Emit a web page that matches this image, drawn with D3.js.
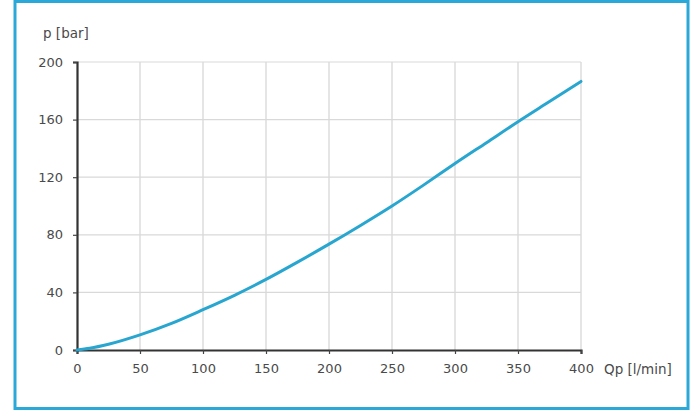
<!DOCTYPE html>
<html><head><meta charset="utf-8">
<script src="https://cdn.jsdelivr.net/npm/d3@7"></script>
<style>
html,body{margin:0;padding:0;background:#fff;}
svg{display:block;}
text{font-family:"DejaVu Sans",Verdana,sans-serif;}
</style></head>
<body>
<svg id="chart" width="694" height="411"></svg>
<script>
const flowQ = [0, 10, 25, 50, 75, 100, 125, 150, 175, 200, 225, 250, 275, 300, 325, 350, 375, 400];
const pressureP = [0, 1.2, 4, 10.5, 18.5, 28, 38, 49, 61, 73.5, 86.5, 100, 114.5, 129.5, 144, 158.5, 172.5, 186.5];
const xTicks = [0, 50, 100, 150, 200, 250, 300, 350, 400];
const yTicks = [0, 40, 80, 120, 160, 200];
const xLabel = "Qp [l/min]";
const yLabel = "p [bar]";

const svg = d3.select("#chart");
const W = 694, H = 411;
const m = {left: 77, right: 113, top: 62, bottom: 61};
const FONT = "'DejaVu Sans',Verdana,sans-serif";
const TXT = "#4a4a4a";

// frame
svg.append("rect").attr("x", 15).attr("y", 1.5).attr("width", 673).attr("height", 407)
  .attr("fill", "#fff").attr("stroke", "#2aa8d8").attr("stroke-width", 3);

const x = d3.scaleLinear().domain([0, 400]).range([m.left, W - m.right]);
const y = d3.scaleLinear().domain([0, 200]).range([H - m.bottom, m.top]);

// grid
svg.append("g").selectAll("line").data(xTicks.slice(1)).join("line")
  .attr("x1", d => x(d)).attr("x2", d => x(d)).attr("y1", y(200)).attr("y2", y(0))
  .attr("stroke", "#d4d4d4").attr("stroke-width", 1.2);
svg.append("g").selectAll("line").data(yTicks.slice(1)).join("line")
  .attr("x1", x(0)).attr("x2", x(400)).attr("y1", d => y(d)).attr("y2", d => y(d))
  .attr("stroke", "#d9d9d9").attr("stroke-width", 1.2);

// axes
const xAxis = svg.append("g").attr("transform", `translate(0,${y(0)})`)
  .call(d3.axisBottom(x).tickValues(xTicks).tickSize(4).tickPadding(10));
const yAxis = svg.append("g").attr("transform", `translate(${x(0)},0)`)
  .call(d3.axisLeft(y).tickValues(yTicks).tickSize(4).tickPadding(10));
[xAxis, yAxis].forEach(g => {
  g.select(".domain").attr("stroke", "#333").attr("stroke-width", 2.2);
  g.selectAll(".tick line").attr("stroke", "#444").attr("stroke-width", 1.2);
  g.selectAll(".tick text").attr("fill", TXT).style("font-size", "13px")
   .style("font-family", FONT);
});

// curve
const line = d3.line().x((d, i) => x(flowQ[i])).y(d => y(d)).curve(d3.curveMonotoneX);
svg.append("path").datum(pressureP).attr("d", line)
  .attr("fill", "none").attr("stroke", "#28a6d0").attr("stroke-width", 3)
  .attr("stroke-linecap", "round");

// labels
svg.append("text").attr("x", 43).attr("y", 38).attr("fill", TXT)
  .style("font-size", "13.5px").style("font-family", FONT).text(yLabel);
svg.append("text").attr("x", 604).attr("y", y(0) + 14).attr("dy", "0.71em").attr("fill", TXT)
  .style("font-size", "13.5px").style("font-family", FONT).text(xLabel);
</script>
</body></html>
